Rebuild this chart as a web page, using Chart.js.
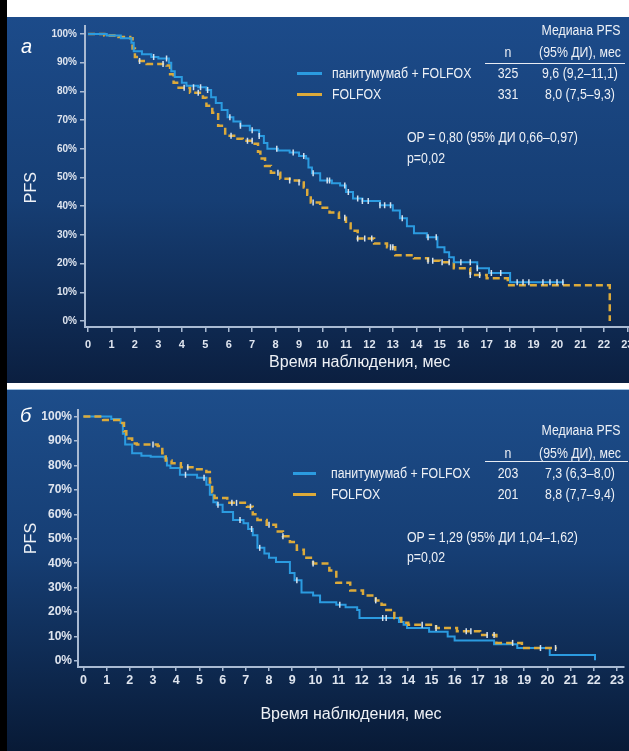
<!DOCTYPE html>
<html>
<head>
<meta charset="utf-8">
<script src="https://cdn.jsdelivr.net/npm/chart.js@4.4.0/dist/chart.umd.min.js"></script>
<style>
body{margin:0;width:629px;height:751px;overflow:hidden;background:#fff;position:relative;
  font-family:"Liberation Sans",Arial,sans-serif;}
.bar{position:absolute;left:0;top:0;width:7px;height:751px;background:#000}
.panel{position:absolute;left:7px;width:622px;overflow:hidden}
#pa{top:17px;height:366px;background:linear-gradient(#1c4b8a,#163e74 50%,#0b1f40)}
#pb{top:390px;height:361px;background:linear-gradient(#1d4d8a,#163e74 45%,#081a36)}
.sep{position:absolute;left:7px;top:383px;width:622px;height:6px;background:#fff;border-bottom:1px solid #9cc0e0}
.t{position:absolute;color:#eef1f6;font-size:14px;line-height:20px;white-space:nowrap;transform:scaleX(.88);transform-origin:0 50%}
.c{transform:translateX(-50%) scaleX(.88);transform-origin:50% 50%}
.hr{position:absolute;height:1px;background:#e8ecf3}
.sw{position:absolute;height:3px}
.lt{position:absolute;color:#fff;font-style:italic;font-size:20px;line-height:20px}
canvas{position:absolute;left:0;top:0}
</style>
</head>
<body>
<div class="bar"></div>
<div class="panel" id="pa"><canvas id="chartA" width="640" height="366"></canvas></div>
<div class="sep"></div>
<div class="panel" id="pb"><canvas id="chartB" width="640" height="361"></canvas></div>

<!-- panel а text -->
<div class="lt" style="left:21px;top:36px">a</div>
<div class="t c" style="left:581px;top:20px">Медиана PFS</div>
<div class="t c" style="left:508px;top:42px">n</div>
<div class="t c" style="left:580px;top:42px">(95% ДИ), мес</div>
<div class="hr" style="left:485px;top:63px;width:140px"></div>
<div class="sw" style="left:297px;top:72px;width:25px;background:#2b9be0"></div>
<div class="t" style="left:332px;top:63px">панитумумаб + FOLFOX</div>
<div class="t c" style="left:508px;top:63px">325</div>
<div class="t c" style="left:580px;top:63px">9,6 (9,2–11,1)</div>
<div class="sw" style="left:297px;top:93px;width:25px;background:#dcaa3a"></div>
<div class="t" style="left:332px;top:84px">FOLFOX</div>
<div class="t c" style="left:508px;top:84px">331</div>
<div class="t c" style="left:580px;top:84px">8,0 (7,5–9,3)</div>
<div class="t" style="left:407px;top:127px">ОР = 0,80 (95% ДИ 0,66–0,97)</div>
<div class="t" style="left:407px;top:148px">p=0,02</div>

<!-- panel б text -->
<div class="lt" style="left:20px;top:405px">б</div>
<div class="t c" style="left:581px;top:420px">Медиана PFS</div>
<div class="t c" style="left:508px;top:443px">n</div>
<div class="t c" style="left:580px;top:443px">(95% ДИ), мес</div>
<div class="hr" style="left:485px;top:461px;width:143px"></div>
<div class="sw" style="left:293px;top:472px;width:23px;background:#2b9be0"></div>
<div class="t" style="left:331px;top:463px">панитумумаб + FOLFOX</div>
<div class="t c" style="left:508px;top:463px">203</div>
<div class="t c" style="left:580px;top:463px">7,3 (6,3–8,0)</div>
<div class="sw" style="left:293px;top:493px;width:23px;background:#dcaa3a"></div>
<div class="t" style="left:331px;top:484px">FOLFOX</div>
<div class="t c" style="left:508px;top:484px">201</div>
<div class="t c" style="left:580px;top:484px">8,8 (7,7–9,4)</div>
<div class="t" style="left:407px;top:527px">ОР = 1,29 (95% ДИ 1,04–1,62)</div>
<div class="t" style="left:407px;top:547px">p=0,02</div>

<script>
const months = [0,1,2,3,4,5,6,7,8,9,10,11,12,13,14,15,16,17,18,19,20,21,22,23];
const pfsTicks = [0,10,20,30,40,50,60,70,80,90,100];
const seriesNames = ['панитумумаб + FOLFOX', 'FOLFOX'];

// а: [month, PFS %], step drops to the value at that month
const aPanitumumab = [[0,100],[0.8,99.5],[1.4,98.5],[1.85,97],[1.95,94],[2.3,93],[2.7,92],[3.0,91.5],[3.45,90],[3.55,87],[3.7,85],[4.0,83],[4.2,82],[4.7,81.5],[5.05,80.5],[5.25,78],[5.45,76],[5.7,73.5],[5.95,71],[6.2,69.5],[6.5,68],[6.9,66.5],[7.3,64.5],[7.5,62],[7.65,60],[8.1,59.4],[8.6,58.7],[9.0,57.5],[9.3,56.6],[9.4,53.5],[9.55,51.5],[9.9,49],[10.4,48],[10.75,47.2],[11.0,45],[11.3,42.7],[11.7,41.8],[12.45,40.3],[13.0,38.5],[13.3,35.8],[13.6,33],[13.9,30.6],[14.45,29.2],[14.9,25.7],[15.2,24],[15.4,22.2],[15.6,20.5],[16.6,18.4],[17.1,16.7],[18.0,13.5],[20.3,13.5]];
const aFolfox = [[0,100],[0.7,99.5],[1.3,99],[1.8,98.5],[1.9,95],[2.0,92],[2.2,90.6],[2.5,89.6],[3.35,89],[3.5,86],[3.65,83],[3.8,81.3],[4.35,79.5],[4.9,77.8],[5.05,75],[5.3,72.6],[5.55,68],[5.85,64.6],[6.3,63.5],[6.6,62.8],[7.05,61.8],[7.25,59],[7.35,56.6],[7.55,54],[7.8,51.7],[8.2,49.6],[8.6,49],[9.0,48.3],[9.2,46.5],[9.35,44],[9.5,41.3],[9.9,39.5],[10.3,37.8],[10.7,36],[11.0,34],[11.2,31.5],[11.5,28.8],[12.2,27],[12.75,25.7],[13.1,22.9],[13.9,21.9],[14.5,21],[15.0,20.5],[15.6,18.4],[16.3,16],[17.0,14.9],[17.9,12.5],[22.25,0]];
// censored observations (tick marks)
const aPanitCensor = [[2.8,92],[3.35,91.5],[4.5,81.5],[4.8,81.5],[5.1,80.5],[6.05,71],[6.5,68],[7.0,66.5],[7.3,64.5],[8.05,60],[8.75,58.7],[9.2,57.5],[9.6,51.5],[10.2,49],[10.3,49],[10.95,47.2],[11.1,45],[11.5,42.7],[11.7,41.8],[11.95,41.8],[12.45,40.3],[12.65,40.3],[12.9,40.3],[13.4,35.8],[14.5,29.2],[14.85,29.2],[15.9,20.5],[16.3,20.5],[16.6,18.4],[17.2,16.7],[17.6,16.7],[18.3,13.5],[18.55,13.5],[18.8,13.5],[19.4,13.5],[19.7,13.5],[20.0,13.5],[20.25,13.5]];
const aFolfoxCensor = [[2.2,90.6],[3.2,89.6],[4.1,81.3],[4.7,79.5],[6.1,64.6],[6.8,62.8],[7.0,62.8],[8.1,51.7],[8.6,49],[9.0,48.3],[9.6,41.3],[10.95,36],[11.5,28.8],[11.8,28.8],[12.1,28.8],[12.9,25.7],[13.0,25.7],[14.5,21],[14.7,21],[15.1,20.5],[15.4,20.5],[16.3,16],[16.7,16]];

// б
const bPanitumumab = [[0,100],[1.2,99],[1.6,97.4],[1.7,93],[1.8,88.6],[2.1,85],[2.5,84],[2.9,83.6],[3.5,83],[3.6,80],[3.75,79],[4.16,76.2],[4.9,75],[5.3,72.1],[5.45,68],[5.6,65],[5.75,63.9],[6.0,61],[6.45,57.7],[6.9,56.4],[7.1,54],[7.3,51.5],[7.5,46.3],[7.8,44],[8.0,42.2],[8.3,40.5],[8.9,36],[9.1,33],[9.4,28],[9.9,26.8],[10.2,24],[10.9,23],[11.3,22],[11.8,20.9],[11.9,17.6],[13.6,16],[13.8,14.8],[13.95,13.5],[14.9,12],[15.7,10],[16.0,8.4],[17.7,6.9],[18.7,5.3],[20.1,2.5],[22.05,0.3]];
const bFolfox = [[0,100],[0.85,98.6],[1.6,97.4],[1.75,94],[1.85,91],[2.1,89],[2.3,88.6],[3.2,88],[3.4,85],[3.55,82],[3.8,80.9],[4.2,79.3],[4.7,78.5],[5.3,77.3],[5.45,73],[5.55,69],[5.65,66.7],[6.2,64.7],[7.05,63.1],[7.3,60],[7.5,57.7],[7.9,55.7],[8.3,53],[8.6,51],[8.9,48.7],[9.2,45.5],[9.5,42.2],[9.9,39.9],[10.6,37],[10.9,32],[11.5,28.8],[12.05,26.8],[12.6,24.8],[12.85,23],[13.0,20.9],[13.4,17.6],[13.7,15.6],[14.0,14.8],[15.2,13.5],[16.1,12.2],[17.1,10.6],[17.8,7.4],[18.9,5.3],[20.4,5.3]];
const bPanitCensor = [[4.4,76.2],[5.2,75],[5.8,63.9],[6.75,57.7],[7.25,54],[7.6,46.3],[9.2,33],[11.05,23],[12.9,17.6],[13.05,17.6]];
const bFolfoxCensor = [[3.0,88.6],[4.5,79.3],[6.4,64.7],[6.6,64.7],[7.2,63.1],[8.0,55.7],[8.6,51],[9.9,39.9],[12.6,24.8],[14.6,14.8],[15.2,13.5],[16.5,12.2],[16.7,12.2],[17.4,10.6],[17.7,10.6],[18.5,7.4],[19.7,5.3],[20.35,5.3]];

const blue = '#2b9be0';
const gold = '#dcaa3a';
const tickMark = '#d6e3f0';
const axisCol = '#a9bad2';
const sans = "'Liberation Sans',Arial,sans-serif";

const toXY = pts => pts.map(p => ({x: p[0], y: p[1]}));

const censorSet = (pts, order) => ({
    data: toXY(pts),
    showLine: false,
    pointStyle: 'line',
    pointRotation: 90,
    pointRadius: 3,
    pointBorderWidth: 1.5,
    pointBorderColor: tickMark,
    order: order
});

function drawKM(id, curves, g) {
    return new Chart(document.getElementById(id), {
        type: 'line',
        data: {
            datasets: [
                {
                    label: seriesNames[0],
                    data: toXY(curves.panit),
                    borderColor: blue,
                    borderWidth: 2,
                    stepped: true,
                    pointRadius: 0,
                    order: g.blueOrder + 1
                },
                {
                    label: seriesNames[1],
                    data: toXY(curves.folfox),
                    borderColor: gold,
                    borderWidth: 2.5,
                    borderDash: [7, 4],
                    stepped: true,
                    pointRadius: 0,
                    order: 2 - g.blueOrder
                },
                censorSet(curves.panitCensor, 0),
                censorSet(curves.folfoxCensor, 0)
            ]
        },
        options: {
            responsive: false,
            animation: false,
            devicePixelRatio: 1,
            layout: { padding: g.pad },
            plugins: { legend: { display: false }, tooltip: { enabled: false } },
            scales: {
                x: {
                    type: 'linear',
                    min: g.xMin,
                    max: g.xMax,
                    afterBuildTicks: s => { s.ticks = months.map(v => ({ value: v })); },
                    afterFit: s => { s.height = g.xHeight; },
                    ticks: {
                        color: '#dfe5ef',
                        font: { family: sans, size: g.xFont, weight: 'bold' },
                        padding: g.xPad,
                        maxRotation: 0,
                        autoSkip: false
                    },
                    grid: { drawOnChartArea: false, tickLength: g.tick, color: axisCol, lineWidth: 1.5 },
                    border: { color: axisCol, width: 2 },
                    title: {
                        display: true,
                        text: 'Время наблюдения, мес',
                        color: '#eef1f6',
                        font: { family: sans, size: 16 },
                        padding: { top: 0, bottom: g.xTitlePad }
                    }
                },
                y: {
                    min: g.yMin,
                    max: g.yMax,
                    afterBuildTicks: s => { s.ticks = pfsTicks.map(v => ({ value: v })); },
                    afterFit: s => { s.width = g.yWidth; },
                    ticks: {
                        color: '#dfe5ef',
                        font: { family: sans, size: g.yFont, weight: 'bold' },
                        padding: g.yPad,
                        callback: v => v + '%'
                    },
                    grid: { drawOnChartArea: false, tickLength: g.tick, color: axisCol, lineWidth: 1.5 },
                    border: { color: axisCol, width: 2 },
                    title: {
                        display: true,
                        text: g.yTitle,
                        color: '#eef1f6',
                        font: { family: sans, size: 16 },
                        padding: { top: 15, bottom: 0 }
                    }
                }
            }
        }
    });
}

drawKM('chartA', {
    panit: aPanitumumab, folfox: aFolfox,
    panitCensor: aPanitCensor, folfoxCensor: aFolfoxCensor
}, {
    blueOrder: 0,
    pad: { left: 0, top: 8, right: 12.6, bottom: 6 },
    xMin: -0.128, xMax: 23.3, yMin: -2.08, yMax: 102.8,
    xHeight: 50, yWidth: 78, tick: 5,
    xFont: 11, yFont: 10, xPad: 6, yPad: 3,
    xTitlePad: 4.4, yTitle: 'PFS     '
});

drawKM('chartB', {
    panit: bPanitumumab, folfox: bFolfox,
    panitCensor: bPanitCensor, folfoxCensor: bFolfoxCensor
}, {
    blueOrder: 1,
    pad: { left: 0, top: 20, right: 23, bottom: 14 },
    xMin: -0.233, xMax: 23.3, yMin: -2.46, yMax: 102.7,
    xHeight: 70, yWidth: 71, tick: 4,
    xFont: 12.5, yFont: 12, xPad: 2, yPad: 2,
    xTitlePad: 12.4, yTitle: 'PFS'
});
</script>
</body>
</html>
